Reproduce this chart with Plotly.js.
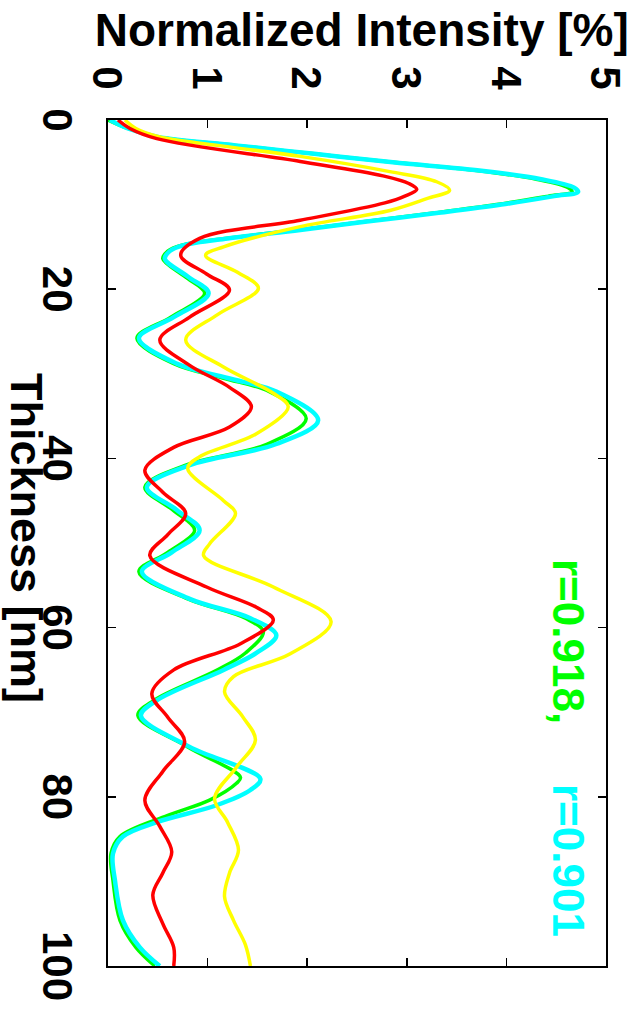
<!DOCTYPE html>
<html>
<head>
<meta charset="utf-8">
<script src="https://cdn.plot.ly/plotly-3.0.1.min.js"></script>
<style>
  html, body { margin: 0; padding: 0; width: 637px; height: 1029px; overflow: hidden; background: #fff; }
  #wrap { position: absolute; left: 0; top: 0; width: 1029px; height: 637px;
          transform-origin: 0 0; transform: translate(637px, 0) rotate(90deg); }
  #chart { width: 1029px; height: 637px; }
</style>
</head>
<body>
<div id="wrap"><div id="chart"></div></div>
<script>
// Thickness [nm] (x) and Normalized Intensity [%] (y)
const thicknessGreen = [0, 1, 2, 3, 4, 5, 6, 7, 8, 8.5, 9, 10, 11, 12, 13, 14, 14.8, 15.5, 16.4, 18.5, 20.5, 23.3, 25.8, 28.8, 30.5, 32.1, 35.3, 38.3, 40.8, 43.4, 46.1, 48.5, 51.1, 53.4, 56.6, 58.9, 60.5, 63, 65, 68.6, 70.4, 74.1, 77.7, 78.4, 80.4, 82.2, 84.7, 86.7, 89.9, 94.6, 97.8, 100];
const intensityGreen = [0.0, 0.2, 0.5, 1.28, 2.07, 2.86, 3.72, 4.3, 4.62, 4.66, 4.42, 3.9, 3.27, 2.58, 1.9, 1.18, 0.74, 0.6, 0.55, 0.77, 0.97, 0.63, 0.29, 0.66, 1.15, 1.62, 1.99, 1.6, 0.78, 0.37, 0.65, 0.87, 0.6, 0.31, 0.8, 1.38, 1.56, 1.38, 1.1, 0.46, 0.3, 0.8, 1.33, 1.29, 1.02, 0.6, 0.12, 0.03, 0.05, 0.12, 0.28, 0.47];

const thicknessCyan = [0, 1, 2, 3, 4, 5, 6, 7, 8, 8.5, 9, 10, 11, 12, 13, 14, 14.8, 15.5, 16.4, 18.5, 20.5, 23.3, 25.8, 28.8, 30.5, 32.1, 35.5, 38.3, 40.8, 43.4, 46.1, 48.5, 51.1, 53.4, 56.6, 58.9, 60.9, 63, 65, 68.6, 70.4, 74.1, 77.9, 79.2, 81, 83, 84.7, 86.7, 89.9, 94.6, 97.8, 100];
const intensityCyan = [0.02, 0.2, 0.5, 1.28, 2.07, 2.86, 3.75, 4.35, 4.68, 4.72, 4.48, 3.95, 3.3, 2.6, 1.93, 1.2, 0.76, 0.62, 0.57, 0.8, 1.01, 0.66, 0.31, 0.69, 1.2, 1.69, 2.11, 1.69, 0.82, 0.39, 0.69, 0.92, 0.64, 0.34, 0.82, 1.43, 1.69, 1.49, 1.16, 0.49, 0.33, 0.82, 1.53, 1.43, 1.09, 0.49, 0.15, 0.05, 0.07, 0.15, 0.32, 0.52];

const thicknessYellow = [0, 1, 2, 3, 4.3, 6.1, 7.3, 8.3, 9.3, 10.7, 12.6, 15.0, 16.0, 18, 19.9, 23, 26.0, 29.2, 32.3, 33.9, 37.1, 39.8, 41.2, 45.0, 46.5, 50.1, 51.5, 55.2, 59.3, 63.1, 65.8, 67.6, 70.5, 73.3, 76.5, 80.2, 83, 86.3, 89, 91.8, 94.6, 97.5, 100];
const intensityYellow = [0.17, 0.28, 0.52, 1.1, 1.93, 2.83, 3.3, 3.43, 3.2, 2.83, 1.93, 1.16, 0.98, 1.3, 1.51, 1.1, 0.78, 1.16, 1.66, 1.81, 1.49, 0.92, 0.8, 1.16, 1.28, 1.02, 0.96, 1.66, 2.24, 1.83, 1.26, 1.17, 1.35, 1.48, 1.29, 1.07, 1.2, 1.31, 1.22, 1.17, 1.26, 1.38, 1.43];

const thicknessRed = [0, 1, 2.2, 4.9, 6.6, 7.5, 8.2, 9, 9.8, 11.85, 14.0, 16.0, 18.2, 20.1, 23.3, 26.0, 29.0, 31.6, 33.9, 36.3, 38.7, 41.4, 44, 46.5, 49, 51.5, 55.2, 57.6, 59.1, 61.9, 65.0, 67.8, 70.6, 73.5, 77, 80.4, 83.5, 86.5, 89, 91.6, 95, 97.8, 100];
const intensityRed = [0.1, 0.22, 0.49, 1.93, 2.76, 3.02, 3.1, 2.98, 2.78, 1.93, 0.92, 0.73, 0.99, 1.22, 0.82, 0.52, 0.82, 1.22, 1.44, 1.22, 0.66, 0.37, 0.55, 0.78, 0.6, 0.42, 0.99, 1.49, 1.66, 1.33, 0.66, 0.44, 0.6, 0.77, 0.55, 0.37, 0.52, 0.64, 0.55, 0.45, 0.55, 0.66, 0.66];

const corrLabels = ["r=0.918,", "r=0.901"];
const xTicks = [0, 20, 40, 60, 80, 100];
const yTicks = [0, 1, 2, 3, 4, 5];

const FONT = "Liberation Sans, Arial, Helvetica, sans-serif";

function series(x, y, color, width) {
  return { x: x, y: y, type: "scatter", mode: "lines",
           line: { color: color, width: width, shape: "spline", smoothing: 1 },
           hoverinfo: "skip", showlegend: false };
}

const data = [
  series(thicknessGreen, intensityGreen, "#00ff00", 3.5),
  series(thicknessCyan, intensityCyan, "#00ffff", 4.5),
  series(thicknessYellow, intensityYellow, "#ffff00", 3.5),
  series(thicknessRed, intensityRed, "#ff0000", 3.5)
];

const axisCommon = {
  showgrid: false, zeroline: false, showline: true, linecolor: "#000", linewidth: 2,
  mirror: "allticks", ticks: "inside", ticklen: 8, tickwidth: 1.5, tickcolor: "#000",
  tickfont: { family: FONT, size: 42, color: "#000", weight: "bold" },
  fixedrange: true
};

const layout = {
  width: 1029, height: 637,
  margin: { l: 120, r: 63, t: 31, b: 108 },
  paper_bgcolor: "#fff", plot_bgcolor: "#fff",
  showlegend: false,
  xaxis: Object.assign({}, axisCommon, { range: [0, 100], tickvals: xTicks, ticktext: xTicks.map(String), ticklabelstandoff: 13 }),
  yaxis: Object.assign({}, axisCommon, { range: [0, 5], tickvals: yTicks, ticktext: yTicks.map(String), ticklabelstandoff: 20 }),
  annotations: [
    { text: "Normalized Intensity [%]", xref: "paper", yref: "paper", x: -0.106, y: 0.51,
      xanchor: "center", yanchor: "middle", textangle: -90, showarrow: false,
      font: { family: FONT, size: 46, color: "#000", weight: "bold" } },
    { text: "Thickness [nm]", xref: "paper", yref: "paper", x: 0.494, y: -0.163,
      xanchor: "center", yanchor: "middle", showarrow: false,
      font: { family: FONT, size: 45, color: "#000", weight: "bold" } },
    { text: corrLabels[0], xref: "paper", yref: "paper", x: 0.5166, y: 0.924,
      xanchor: "left", yanchor: "middle", showarrow: false,
      font: { family: FONT, size: 44, color: "#00ff00", weight: "bold" } },
    { text: corrLabels[1], xref: "paper", yref: "paper", x: 0.7825, y: 0.924,
      xanchor: "left", yanchor: "middle", showarrow: false,
      font: { family: FONT, size: 44, color: "#00ffff", weight: "bold" } }
  ]
};

Plotly.newPlot("chart", data, layout, { displayModeBar: false, staticPlot: true });
</script>
</body>
</html>
